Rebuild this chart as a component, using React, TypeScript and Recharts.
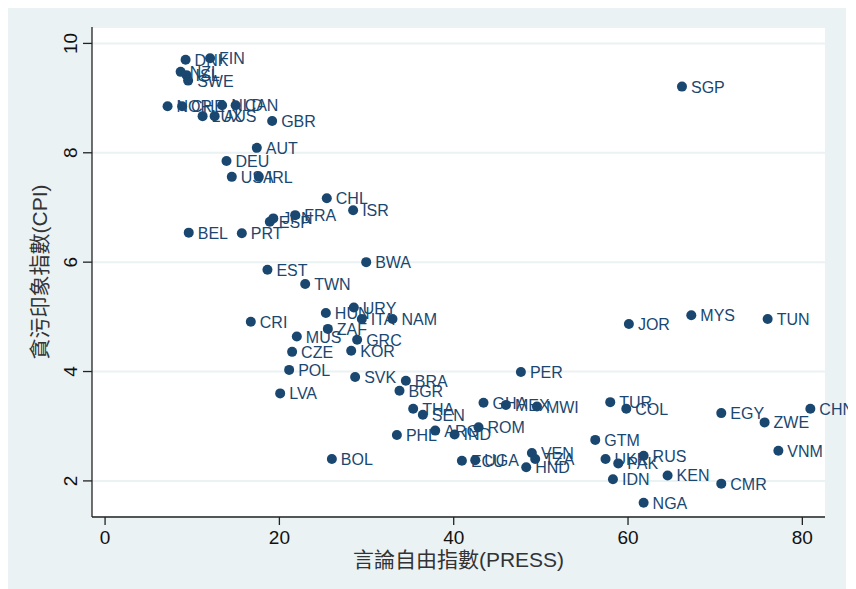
import { ScatterChart, Scatter, XAxis, YAxis, CartesianGrid, Label } from "recharts";

// country codes, press freedom index (x), corruption perception index (y)
const countries = [
  "DNK", "FIN", "NZL", "ISL", "SWE", "NOR", "CHE", "NLD", "CAN", "LUX",
  "AUS", "GBR", "AUT", "DEU", "USA", "IRL", "CHL", "ISR", "FRA", "ESP",
  "JPN", "BEL", "PRT", "EST", "TWN", "BWA", "CRI", "HUN", "URY", "ITA",
  "NAM", "ZAF", "MUS", "GRC", "CZE", "KOR", "POL", "SVK", "BRA", "BGR",
  "LVA", "THA", "SEN", "PHL", "ARG", "IND", "BOL", "GHA", "MEX", "MWI",
  "ROM", "ECU", "UGA", "VEN", "TZA", "HND", "PER", "GTM", "TUR", "COL",
  "EGY", "ZWE", "CHN", "VNM", "UKR", "PAK", "RUS", "IDN", "KEN", "CMR",
  "NGA", "SGP", "JOR", "MYS", "TUN",
];

const press = [
  9.24, 12.05, 8.67, 9.35, 9.53, 7.17, 8.84, 13.43, 14.98, 11.19,
  12.57, 19.17, 17.41, 13.93, 14.54, 17.64, 25.44, 28.46, 21.81, 18.9,
  19.3, 9.6, 15.69, 18.63, 22.96, 29.96, 16.72, 25.33, 28.54, 29.46,
  32.98, 25.56, 22.0, 28.92, 21.46, 28.24, 21.12, 28.69, 34.51, 33.78,
  20.09, 35.35, 36.46, 33.48, 37.88, 40.1, 26.02, 43.42, 45.99, 49.55,
  42.85, 40.94, 42.47, 48.97, 49.35, 48.32, 47.71, 56.24, 57.96, 59.8,
  70.7, 75.67, 80.92, 77.25, 57.42, 58.88, 61.79, 58.27, 64.54, 70.7,
  61.79, 66.19, 60.1, 67.26, 76.02,
];

const cpi = [
  9.7, 9.73, 9.48, 9.42, 9.32, 8.85, 8.85, 8.87, 8.87, 8.67,
  8.67, 8.58, 8.09, 7.85, 7.56, 7.56, 7.17, 6.95, 6.86, 6.74,
  6.8, 6.54, 6.53, 5.86, 5.6, 6.0, 4.91, 5.07, 5.17, 4.96,
  4.96, 4.78, 4.64, 4.58, 4.36, 4.38, 4.03, 3.9, 3.83, 3.65,
  3.6, 3.32, 3.21, 2.84, 2.92, 2.85, 2.4, 3.43, 3.39, 3.36,
  2.98, 2.37, 2.38, 2.51, 2.4, 2.25, 3.99, 2.75, 3.44, 3.32,
  3.24, 3.07, 3.32, 2.55, 2.4, 2.32, 2.46, 2.03, 2.1, 1.95,
  1.6, 9.21, 4.87, 5.03, 4.96,
];

const xTicks = [0, 20, 40, 60, 80];
const yTicks = [2, 4, 6, 8, 10];

const points = countries.map((name, i) => ({ name, press: press[i], cpi: cpi[i] }));

const navy = "#1a476f";
const bg = "#eaf2f3";
const tickFont = "'Liberation Sans Narrow', 'Liberation Sans', Arial, sans-serif";
const titleFont = "'Liberation Sans', Arial, 'Noto Sans CJK TC', sans-serif";

function Marker(props: any) {
  const { cx, cy, payload } = props;
  return (
    <g>
      <circle cx={cx} cy={cy} r={5} fill={navy} />
      <text
        x={cx + 9}
        y={cy + 6}
        fill={navy}
        fontSize={16}
        fontFamily="'Liberation Sans', Arial, sans-serif"
      >
        {payload.name}
      </text>
    </g>
  );
}

function XTick(props: any) {
  const { x, y, payload } = props;
  return (
    <text x={x} y={y} dy="0.71em" textAnchor="middle" fontSize={19} fontFamily={tickFont} fill="#111">
      {payload.value}
    </text>
  );
}

function YTick(props: any) {
  const { x, y, payload } = props;
  return (
    <text
      x={x}
      y={y}
      transform={`rotate(-90 ${x} ${y})`}
      textAnchor="middle"
      fontSize={19}
      fontFamily={tickFont}
      fill="#111"
    >
      {payload.value}
    </text>
  );
}

export default function App() {
  return (
    <div style={{ width: 838, height: 581, background: bg, overflow: "visible" }}>
      <ScatterChart
        width={848}
        height={581}
        margin={{ top: 19, right: 31, bottom: 0, left: 0 }}
        style={{ overflow: "visible" }}
      >
        <CartesianGrid fill="#fff" stroke={bg} strokeWidth={2} vertical={false} />
        <XAxis
          type="number"
          dataKey="press"
          domain={[-1.5, 82.6]}
          ticks={xTicks}
          height={72}
          tickSize={8}
          tickMargin={6}
          tick={<XTick />}
          stroke="#222"
          strokeWidth={1.3}
        >
          <Label
            content={(p: any) => (
              <text
                x={p.viewBox.x + p.viewBox.width / 2}
                y={559}
                textAnchor="middle"
                fontSize={21}
                fontFamily={titleFont}
                fill="#333"
              >
                言論自由指數(PRESS)
              </text>
            )}
          />
        </XAxis>
        <YAxis
          type="number"
          dataKey="cpi"
          domain={[1.34, 10.3]}
          ticks={yTicks}
          width={84}
          tickSize={9}
          tickMargin={6}
          tick={<YTick />}
          stroke="#222"
          strokeWidth={1.3}
        >
          <Label
            content={(p: any) => {
              const cy = p.viewBox.y + p.viewBox.height / 2;
              return (
                <text
                  x={39}
                  y={cy}
                  transform={`rotate(-90 39 ${cy})`}
                  textAnchor="middle"
                  fontSize={21}
                  fontFamily={titleFont}
                  fill="#333"
                >
                  貪污印象指數(CPI)
                </text>
              );
            }}
          />
        </YAxis>
        <Scatter data={points} shape={<Marker />} isAnimationActive={false} />
      </ScatterChart>
    </div>
  );
}
